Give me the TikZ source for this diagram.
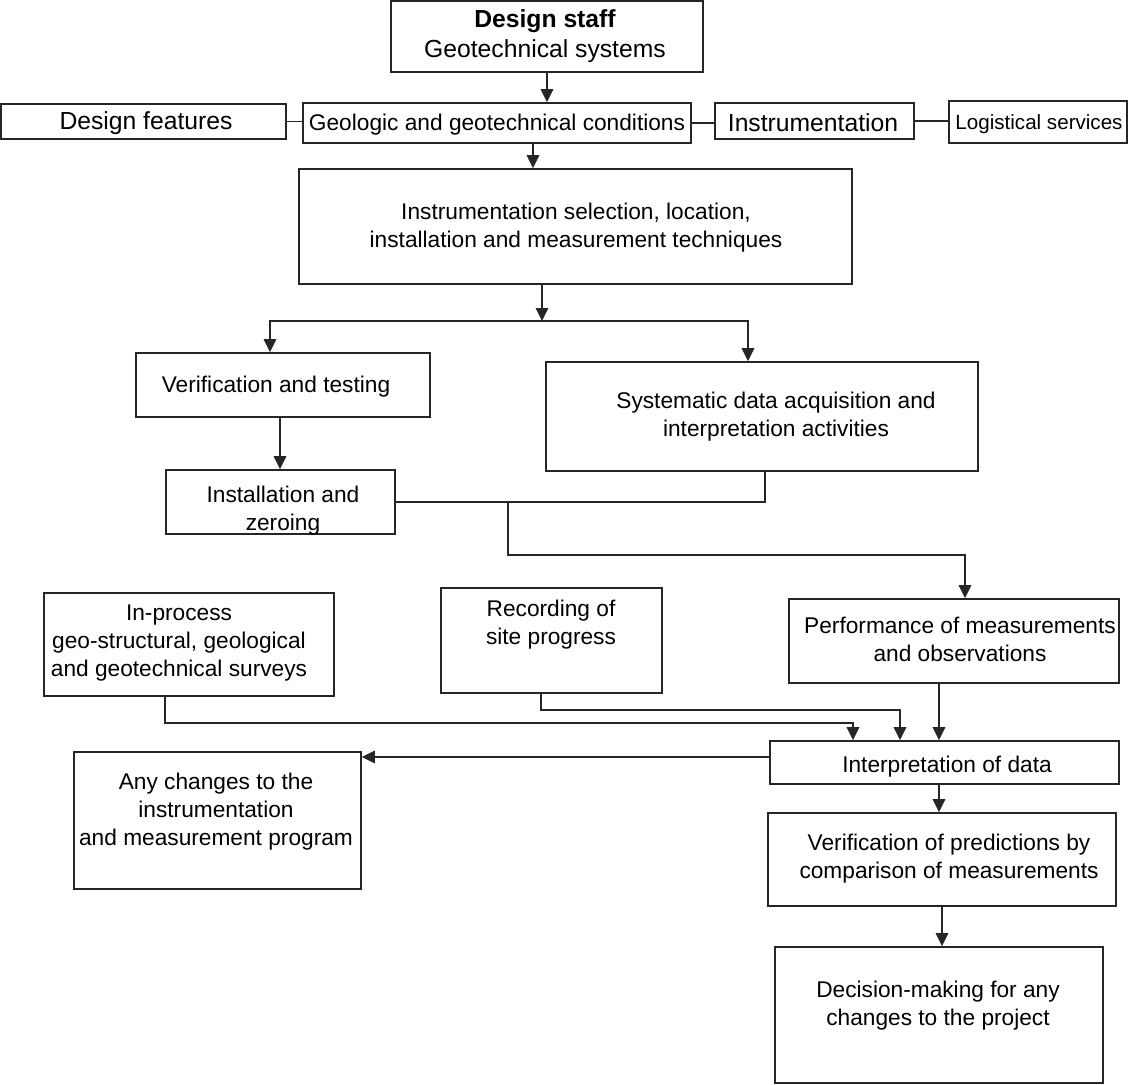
\documentclass[tikz,border=0pt]{standalone}
\usepackage{fontspec}
\setmainfont{Liberation Sans}
\usetikzlibrary{arrows.meta}
\newcommand\mybox[5]{%
  \node[box, minimum width={(#4)-(#2)}, minimum height={(#5)-(#3)}] (#1) at ({((#2)+(#4))/2},{((#3)+(#5))/2}) {};}
\begin{document}
\begin{tikzpicture}[x=1pt,y=-1pt,
  box/.style={draw=black!85, line width=1.7pt, inner sep=0pt, fill=white},
  txt/.style={align=center, inner sep=0pt, yshift=-2.5pt, font=\fontsize{22.7}{28}\selectfont},
  big/.style={align=center, inner sep=0pt, yshift=-2.5pt, font=\fontsize{24.7}{30}\selectfont},
  small/.style={align=center, inner sep=0pt, yshift=-2pt, font=\fontsize{20.6}{25}\selectfont},
  ln/.style={draw=black!85, line width=1.7pt},
  arr/.style={ln, -{Triangle[length=13pt,width=12.5pt]}}]
\useasboundingbox (0,0) rectangle (1128,1085);
% boxes
\mybox{ds}{391}{1}{703}{72}
\mybox{df}{1}{104}{286}{139}
\mybox{geo}{303}{103}{691}{143}
\mybox{ins}{715}{103}{914}{139}
\mybox{log}{949}{101}{1127}{143}
\mybox{sel}{299}{169}{852}{284}
\mybox{ver}{136}{353}{430}{417}
\mybox{inz}{166}{470}{395}{534}
\mybox{sys}{546}{362}{978}{471}
\mybox{inp}{44}{593}{334}{696}
\mybox{rec}{441}{588}{662}{693}
\mybox{perf}{789}{599}{1119}{683}
\mybox{int}{770}{741}{1119}{784}
\mybox{any}{74}{752}{361}{889}
\mybox{vp}{768}{813}{1116}{906}
\mybox{dec}{775}{947}{1103}{1083}
% texts
\node[big] (ds-t) at (545,34) {{\bfseries Design staff}\\Geotechnical systems};
\node[big] (df-t) at (146,121) {Design features};
\node[txt] (geo-t) at (497,122) {Geologic and geotechnical conditions};
\node[big] (ins-t) at (813,120) {Instrumentation};
\node[small] (log-t) at (1039,122) {Logistical services};
\node[txt] (sel-t) at (576,225) {Instrumentation selection, location,\\installation and measurement techniques};
\node[txt] (ver-t) at (276,384) {Verification and testing};
\node[txt] (inz-t) at (283,508) {Installation and\\zeroing};
\node[txt] (sys-t) at (776,414) {Systematic data acquisition and\\interpretation activities};
\node[txt] (inp-t) at (179,641) {In-process\\geo-structural, geological\\and geotechnical surveys};
\node[txt] (rec-t) at (551,622) {Recording of\\site progress};
\node[txt] (perf-t) at (960,637) {Performance of measurements\\and observations};
\node[txt] (int-t) at (947,764) {Interpretation of data};
\node[txt] (any-t) at (216,809) {Any changes to the\\instrumentation\\and measurement program};
\node[txt] (vp-t) at (949,856) {Verification of predictions by\\comparison of measurements};
\node[txt] (dec-t) at (938,1003) {Decision-making for any\\changes to the project};
% helper coordinates
\coordinate (x547) at (547,0);
\coordinate (x533) at (533,0);
\coordinate (x542) at (542,0);
\coordinate (j) at (542,321);
\coordinate (x270) at (270,0);
\coordinate (x748) at (748,0);
\coordinate (x280) at (280,0);
\coordinate (x765) at (765,0);
\coordinate (k) at (508,502);
\coordinate (k2) at (508,555);
\coordinate (x965) at (965,0);
\coordinate (x939) at (939,0);
\coordinate (x942) at (942,0);
\coordinate (a1) at (165,723);
\coordinate (x165) at (165,0);
\coordinate (x853) at (853,0);
\coordinate (b1) at (541,710);
\coordinate (x541) at (541,0);
\coordinate (x900) at (900,0);
\coordinate (y757) at (0,757);
% connectors
\draw[arr] (ds.south -| x547) -- (geo.north -| x547);
\draw[ln] (df.east) -- (geo.west |- df.east);
\draw[ln] (geo.east) -- (ins.west |- geo.east);
\draw[ln] (ins.east) -- (log.west |- ins.east);
\draw[arr] (geo.south -| x533) -- (sel.north -| x533);
\draw[arr] (sel.south -| x542) -- (j);
\draw[arr] (j) -| (ver.north -| x270);
\draw[arr] (j) -| (sys.north -| x748);
\draw[arr] (ver.south -| x280) -- (inz.north -| x280);
\draw[ln] (sys.south -| x765) |- (inz.east);
\draw[arr] (k) -- (k2) -| (perf.north -| x965);
\draw[arr] (perf.south -| x939) -- (int.north -| x939);
\draw[arr] (inp.south -| x165) -- (a1) -| (int.north -| x853);
\draw[arr] (rec.south -| x541) -- (b1) -| (int.north -| x900);
\draw[arr] (int.west |- y757) -- (any.east |- y757);
\draw[arr] (int.south -| x939) -- (vp.north -| x939);
\draw[arr] (vp.south -| x942) -- (dec.north -| x942);
\end{tikzpicture}
\end{document}
